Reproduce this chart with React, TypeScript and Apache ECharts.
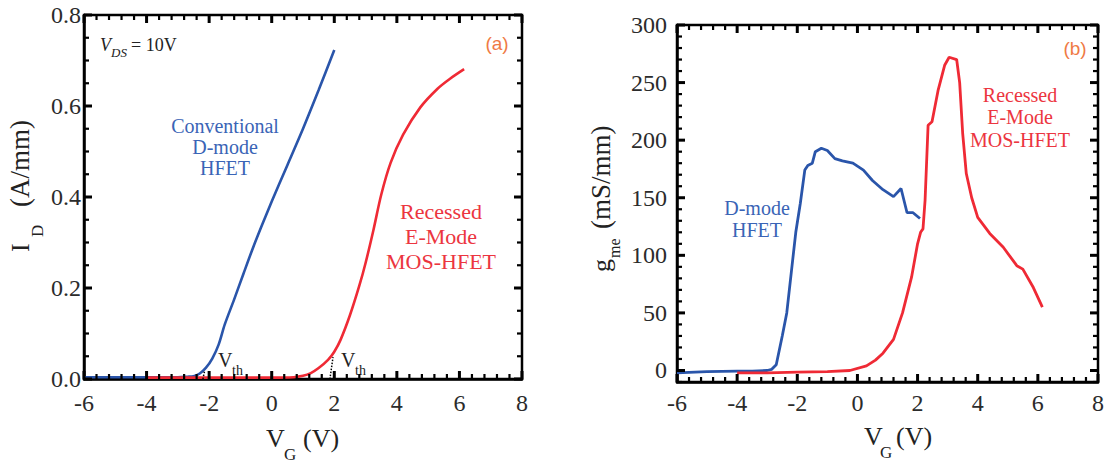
import React, { useEffect, useRef } from 'react';
import * as echarts from 'echarts';

// ---------- data ----------
const VG_MIN = -6;
const VG_MAX = 8;
const VG_STEP = 2;
const VG_MINOR = 0.4;
const ID_MIN = 0;
const ID_MAX = 0.8;
const ID_STEP = 0.2;
const ID_MINOR = 0.05;
const GM_MIN = -10;
const GM_MAX = 300;
const GM_STEP = 50;
const GM_MINOR = 10;
const GM_TICKS = [0, 50, 100, 150, 200, 250, 300];

// (a) ID vs VG
const ID_D_VG = [-6, -4, -3, -2.7, -2.5, -2.3, -2.1, -1.9, -1.7, -1.5, -1.2, -0.9, -0.6, -0.3, 0, 0.5, 1, 1.5, 2];
const ID_D = [0.004, 0.004, 0.004, 0.005, 0.006, 0.012, 0.025, 0.045, 0.075, 0.12, 0.175, 0.232, 0.288, 0.34, 0.39, 0.47, 0.55, 0.635, 0.723];

const ID_E_VG = [-4, -2, 0, 0.7, 1, 1.25, 1.5, 1.8, 2, 2.2, 2.5, 2.8, 3, 3.25, 3.5, 3.8, 4.2, 4.75, 5.3, 5.7, 6.15];
const ID_E = [0.003, 0.003, 0.003, 0.004, 0.007, 0.013, 0.024, 0.042, 0.06, 0.086, 0.14, 0.205, 0.255, 0.327, 0.405, 0.475, 0.537, 0.597, 0.638, 0.66, 0.681];

const VTH_D_VG = [-2.2, -2.15];
const VTH_D_ID = [0, 0.016];
const VTH_E_VG = [1.86, 1.96];
const VTH_E_ID = [0, 0.048];

// (b) gm vs VG
const GM_D_VG = [-6, -5, -4, -3.5, -3, -2.85, -2.7, -2.5, -2.35, -2.2, -2.05, -1.9, -1.75, -1.65, -1.5, -1.4, -1.2, -1.0, -0.75, -0.5, -0.15, 0.2, 0.5, 0.85, 1.2, 1.45, 1.65, 1.85, 2.08];
const GM_D = [-2, -1, -0.5, -0.5, 0, 1, 5, 30, 50, 85, 120, 145, 174, 178, 180, 190, 193, 191, 184, 182, 180, 174, 165, 157, 151, 158, 137, 137, 132];

const GM_E_VG = [-4, -3, -2, -1, -0.25, 0.3, 0.6, 0.85, 1.2, 1.5, 1.8, 2.0, 2.1, 2.18, 2.25, 2.35, 2.48, 2.68, 2.9, 3.05, 3.3, 3.4, 3.5, 3.62, 3.8, 4.0, 4.4, 4.85, 5.3, 5.5, 5.85, 6.15];
const GM_E = [-2, -2, -1.5, -1, 0, 4, 9, 15, 27, 50, 81, 110, 120, 123, 148, 213, 216, 243, 265, 272, 270, 250, 206, 171, 150, 133, 119, 107, 91, 88, 72, 55];

// ---------- styles ----------
const SERIF = "'Liberation Serif', 'Times New Roman', serif";
const SANS = "'Liberation Sans', Arial, sans-serif";
const BLUE = '#2a55aa';
const RED = '#ef2a35';
const BLUE_T = '#3a64b6';
const RED_T = '#ec3540';
const ORANGE = '#ef7a45';
const LABEL = '#2b2b2b';

const MAJ_LEN = 8, MAJ_W = 3, MIN_LEN = 5, MIN_W = 2.2;

const zip = (xs: number[], ys: number[]) => xs.map((x, i) => [x, ys[i]]);

// tick items along an axis: [value, isYAxis, isMajor]
function tickItems(min: number, max: number, minor: number, major: number, majorFrom: number, isY: number) {
  const out: number[][] = [];
  const n = Math.round((max - min) / minor);
  for (let i = 0; i <= n; i++) {
    const v = Math.round((min + i * minor) * 1e6) / 1e6;
    const k = (v - majorFrom) / major;
    const isMajor = v >= majorFrom - 1e-9 && Math.abs(k - Math.round(k)) < 1e-6 ? 1 : 0;
    out.push([v, isY, isMajor]);
  }
  return out;
}

function tickSeries(axisIdx: number, xMin: number, xMax: number, yMin: number, yMax: number, items: number[][]) {
  return {
    type: 'custom', xAxisIndex: axisIdx, yAxisIndex: axisIdx, silent: true, z: 6, clip: false,
    data: items,
    renderItem: (_p: any, api: any) => {
      const v = api.value(0);
      const isY = api.value(1) === 1;
      const major = api.value(2) === 1;
      const L = major ? MAJ_LEN : MIN_LEN;
      const st = { stroke: '#000', lineWidth: major ? MAJ_W : MIN_W };
      if (!isY) {
        const b = api.coord([v, yMin]);
        const t = api.coord([v, yMax]);
        return {
          type: 'group', children: [
            { type: 'line', shape: { x1: b[0], y1: b[1], x2: b[0], y2: b[1] - L }, style: st },
            { type: 'line', shape: { x1: t[0], y1: t[1], x2: t[0], y2: t[1] + L }, style: st },
          ],
        };
      }
      const l = api.coord([xMin, v]);
      const r = api.coord([xMax, v]);
      return {
        type: 'group', children: [
          { type: 'line', shape: { x1: l[0], y1: l[1], x2: l[0] + L, y2: l[1] }, style: st },
          { type: 'line', shape: { x1: r[0], y1: r[1], x2: r[0] - L, y2: r[1] }, style: st },
        ],
      };
    },
  };
}

function T(text: string, x: number, y: number, size: number, fill: string, opts: any = {}) {
  return {
    type: 'text', x, y, silent: true,
    style: {
      text, fontSize: size, fontFamily: opts.family || SERIF, fill,
      align: opts.align || 'center', verticalAlign: 'middle',
      textAlign: opts.align || 'center', textVerticalAlign: 'middle',
      fontStyle: opts.italic ? 'italic' : 'normal',
      lineHeight: opts.lineHeight || undefined,
    },
  };
}

const axisLine = { show: true, onZero: false, lineStyle: { color: '#000', width: 2.5 } };

function buildOption() {
  return {
    animation: false,
    backgroundColor: '#fff',
    grid: [
      { left: 84, top: 15, width: 438, height: 364, show: true, borderColor: '#000', borderWidth: 2.5, backgroundColor: 'transparent' },
      { left: 677, top: 25, width: 421, height: 357, show: true, borderColor: '#000', borderWidth: 2.5, backgroundColor: 'transparent' },
    ],
    xAxis: [
      {
        type: 'value', gridIndex: 0, min: VG_MIN, max: VG_MAX, interval: VG_STEP,
        axisLine, axisTick: { show: false }, splitLine: { show: false },
        axisLabel: { fontFamily: SERIF, fontSize: 24, color: LABEL, margin: 12 },
      },
      {
        type: 'value', gridIndex: 1, min: VG_MIN, max: VG_MAX, interval: VG_STEP,
        axisLine, axisTick: { show: false }, splitLine: { show: false },
        axisLabel: { fontFamily: SERIF, fontSize: 24, color: LABEL, margin: 9 },
      },
    ],
    yAxis: [
      {
        type: 'value', gridIndex: 0, min: ID_MIN, max: ID_MAX, interval: ID_STEP,
        axisLine, axisTick: { show: false }, splitLine: { show: false },
        axisLabel: { fontFamily: SERIF, fontSize: 24, color: LABEL, margin: 3, formatter: (v: number) => v.toFixed(1) },
      },
      {
        type: 'value', gridIndex: 1, min: GM_MIN, max: GM_MAX,
        axisLine, axisTick: { show: false }, splitLine: { show: false },
        axisLabel: { fontFamily: SERIF, fontSize: 24, color: LABEL, margin: 10, customValues: GM_TICKS },
      },
    ],
    series: [
      { type: 'line', xAxisIndex: 0, yAxisIndex: 0, data: zip(ID_D_VG, ID_D), smooth: 0.3, showSymbol: false, symbol: 'none', lineStyle: { color: BLUE, width: 2.6 }, z: 3 },
      { type: 'line', xAxisIndex: 0, yAxisIndex: 0, data: zip(ID_E_VG, ID_E), smooth: 0.3, showSymbol: false, symbol: 'none', lineStyle: { color: RED, width: 2.6 }, z: 4 },
      { type: 'line', xAxisIndex: 0, yAxisIndex: 0, data: zip(VTH_D_VG, VTH_D_ID), symbol: 'none', lineStyle: { color: '#000', width: 1.5, type: 'dotted' }, z: 5 },
      { type: 'line', xAxisIndex: 0, yAxisIndex: 0, data: zip(VTH_E_VG, VTH_E_ID), symbol: 'none', lineStyle: { color: '#000', width: 1.5, type: 'dotted' }, z: 5 },
      { type: 'line', xAxisIndex: 1, yAxisIndex: 1, data: zip(GM_D_VG, GM_D), symbol: 'none', lineStyle: { color: BLUE, width: 2.8 }, z: 3 },
      { type: 'line', xAxisIndex: 1, yAxisIndex: 1, data: zip(GM_E_VG, GM_E), symbol: 'none', lineStyle: { color: RED, width: 2.8 }, z: 4 },
      tickSeries(0, VG_MIN, VG_MAX, ID_MIN, ID_MAX, [
        ...tickItems(VG_MIN, VG_MAX, VG_MINOR, VG_STEP, VG_MIN, 0),
        ...tickItems(ID_MIN, ID_MAX, ID_MINOR, ID_STEP, ID_MIN, 1),
      ]),
      tickSeries(1, VG_MIN, VG_MAX, GM_MIN, GM_MAX, [
        ...tickItems(VG_MIN, VG_MAX, VG_MINOR, VG_STEP, VG_MIN, 0),
        ...tickItems(GM_MIN, GM_MAX, GM_MINOR, GM_STEP, 0, 1),
      ]),
    ],
    graphic: [
      // panel (a)
      T('V', 100, 45, 18, '#222', { align: 'left', italic: true }),
      T('DS', 111, 52, 13, '#222', { align: 'left', italic: true }),
      T('= 10V', 131, 45, 18, '#222', { align: 'left' }),
      T('(a)', 497, 43, 19, ORANGE, { family: SANS }),
      T('Conventional\nD-mode\nHFET', 225, 147, 20, BLUE_T, { lineHeight: 21 }),
      T('Recessed\nE-Mode\nMOS-HFET', 441, 236, 22, RED_T, { lineHeight: 25 }),
      T('V', 218, 360, 20, '#222', { align: 'left' }),
      T('th', 232, 370, 14, '#222', { align: 'left' }),
      T('V', 341, 360, 20, '#222', { align: 'left' }),
      T('th', 355, 370, 14, '#222', { align: 'left' }),
      T('V', 266, 438, 26, '#222', { align: 'left' }),
      T('G', 284, 454, 17, '#222', { align: 'left' }),
      T('(V)', 303, 438, 26, '#222', { align: 'left' }),
      {
        type: 'group', x: 20, y: 252, rotation: Math.PI / 2,
        children: [
          T('I', 0, 0, 26, '#222', { align: 'left' }),
          T('D', 15, 17, 17, '#222', { align: 'left' }),
          T('(A/mm)', 45, 0, 27, '#222', { align: 'left' }),
        ],
      },
      // panel (b)
      T('(b)', 1075, 48, 19, ORANGE, { family: SANS }),
      T('D-mode\nHFET', 757, 219, 20, BLUE_T, { lineHeight: 22 }),
      T('Recessed\nE-Mode\nMOS-HFET', 1020, 117, 20, RED_T, { lineHeight: 22.5 }),
      T('V', 864, 436, 26, '#222', { align: 'left' }),
      T('G', 880, 452, 17, '#222', { align: 'left' }),
      T('(V)', 896, 436, 26, '#222', { align: 'left' }),
      {
        type: 'group', x: 601, y: 272, rotation: Math.PI / 2,
        children: [
          T('g', 0, 0, 26, '#222', { align: 'left' }),
          T('me', 14, 13, 16, '#222', { align: 'left' }),
          T('(mS/mm)', 43, 0, 27, '#222', { align: 'left' }),
        ],
      },
    ],
  };
}

export default function App() {
  const ref = useRef<HTMLDivElement>(null);
  useEffect(() => {
    if (!ref.current) return;
    const chart = echarts.init(ref.current, null, { renderer: 'svg' });
    chart.setOption(buildOption() as any);
    return () => chart.dispose();
  }, []);
  return <div ref={ref} style={{ position: 'absolute', left: 0, top: 0, width: 1110, height: 463 }} />;
}
